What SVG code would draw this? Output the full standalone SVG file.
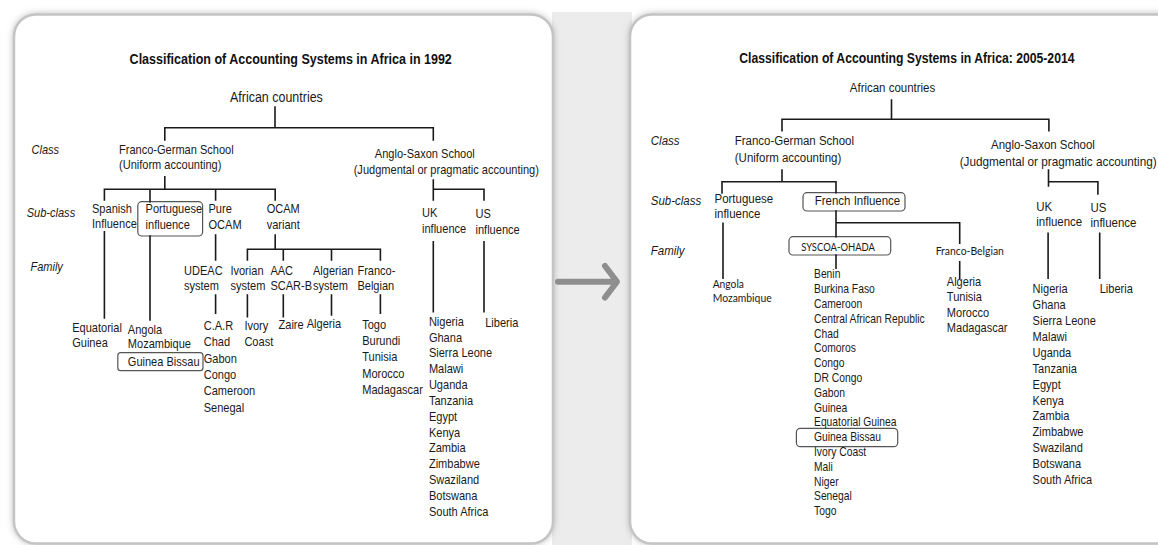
<svg xmlns="http://www.w3.org/2000/svg" width="1158" height="545" viewBox="0 0 1158 545">
<style>
.t{font-family:'Liberation Sans',Arial,sans-serif;font-size:13px;fill:#1a1a1a}
.r{font-size:13.5px}
.s{font-size:12px}
.h{font-weight:bold;font-size:15px;fill:#111}
.i{font-style:italic}
.c{font-family:Lato,'Liberation Sans',sans-serif;font-size:11.5px;fill:#1a1a1a}
.ln{stroke:#1a1a1a;stroke-width:1.6;fill:none;stroke-linecap:square}
.bx{fill:none;stroke:#555;stroke-width:1.2}
.pn{fill:#fff;stroke:#c4c4c4;stroke-width:2.5}
</style>
<defs>
<filter id="sh" x="-5%" y="-5%" width="110%" height="110%">
<feDropShadow dx="0" dy="0" stdDeviation="3" flood-color="#888" flood-opacity="0.55"/>
</filter>
</defs>
<rect x="0" y="0" width="1158" height="545" fill="#fff"/>
<rect x="552" y="12" width="80" height="533" fill="#ececec"/>
<g id="panel-1992">
<rect class="pn" x="14" y="14.5" width="539" height="529" rx="22" filter="url(#sh)"/>
</g>
<g id="panel-2005">
<rect class="pn" x="630" y="14.5" width="560" height="529" rx="22" filter="url(#sh)"/>
</g>
<g id="arrow">
<path d="M558,281.7 H615 M605,266 L617,281.7 L605,297.5" fill="none" stroke="#8e8e8e" stroke-width="6" stroke-linecap="round" stroke-linejoin="round"/>
</g>

<!-- LEFT PANEL -->
<g id="l-title"><text class="t h" transform="matrix(.835 0 0 1 129.6 64)">Classification of Accounting Systems in Africa in 1992</text></g>
<g id="l-root"><text class="t" style="font-size:14.5px" transform="matrix(.86 0 0 1 230 102)">African countries</text></g>
<g id="l-levels">
<text class="t i" transform="matrix(.85 0 0 1 31.5 153.5)">Class</text>
<text class="t i" transform="matrix(.85 0 0 1 26.7 217.3)">Sub-class</text>
<text class="t i" transform="matrix(.85 0 0 1 30.4 270.7)">Family</text>
</g>
<g id="l-franco-german"><text class="t" transform="matrix(.85 0 0 1 119 153.5)"><tspan x="0">Franco-German School</tspan><tspan x="0" dy="16">(Uniform accounting)</tspan></text></g>
<g id="l-anglo-saxon"><text class="t" transform="matrix(.85 0 0 1 374.8 158.3)">Anglo-Saxon School</text><text class="t" transform="matrix(.85 0 0 1 353.7 174)">(Judgmental or pragmatic accounting)</text></g>
<g id="l-spanish"><text class="t" transform="matrix(.85 0 0 1 92 213.3)"><tspan x="0">Spanish</tspan><tspan x="0" dy="15">Influence</tspan></text></g>
<g id="l-portuguese"><rect class="bx" x="137.8" y="201.7" width="64.8" height="34.3" rx="4"/><text class="t" transform="matrix(.85 0 0 1 145.6 213.3)"><tspan x="0">Portuguese</tspan><tspan x="0" dy="15.7">influence</tspan></text></g>
<g id="l-pure-ocam"><text class="t" transform="matrix(.85 0 0 1 208.5 213.3)"><tspan x="0">Pure</tspan><tspan x="0" dy="15.7">OCAM</tspan></text></g>
<g id="l-ocam-variant"><text class="t" transform="matrix(.85 0 0 1 266.7 213.3)"><tspan x="0">OCAM</tspan><tspan x="0" dy="15.7">variant</tspan></text></g>
<g id="l-uk"><text class="t" transform="matrix(.85 0 0 1 422 217.3)"><tspan x="0">UK</tspan><tspan x="0" dy="16">influence</tspan></text></g>
<g id="l-us"><text class="t" transform="matrix(.85 0 0 1 475.5 218.3)"><tspan x="0">US</tspan><tspan x="0" dy="16">influence</tspan></text></g>
<g id="l-udeac"><text class="t" transform="matrix(.85 0 0 1 184 275)"><tspan x="0">UDEAC</tspan><tspan x="0" dy="15">system</tspan></text></g>
<g id="l-ivorian"><text class="t" transform="matrix(.85 0 0 1 230.4 275)"><tspan x="0">Ivorian</tspan><tspan x="0" dy="15">system</tspan></text></g>
<g id="l-aac"><text class="t" transform="matrix(.85 0 0 1 270.4 275)"><tspan x="0">AAC</tspan><tspan x="0" dy="15">SCAR-B</tspan></text></g>
<g id="l-algerian"><text class="t" transform="matrix(.85 0 0 1 313 275)"><tspan x="0">Algerian</tspan><tspan x="0" dy="15">system</tspan></text></g>
<g id="l-franco-belgian"><text class="t" transform="matrix(.85 0 0 1 357.4 275)"><tspan x="0">Franco-</tspan><tspan x="0" dy="15">Belgian</tspan></text></g>
<g id="l-c-spanish"><text class="t" transform="matrix(.85 0 0 1 72.2 331.7)"><tspan x="0">Equatorial</tspan><tspan x="0" dy="15">Guinea</tspan></text></g>
<g id="l-c-portuguese"><text class="t" transform="matrix(.85 0 0 1 127.8 334)"><tspan x="0">Angola</tspan><tspan x="0" dy="14.3">Mozambique</tspan></text>
<rect class="bx" x="117.8" y="352.7" width="85.2" height="18" rx="3"/><text class="t" transform="matrix(.85 0 0 1 127.8 366)">Guinea Bissau</text></g>
<g id="l-c-udeac"><text class="t" transform="matrix(.85 0 0 1 203.7 330)"><tspan x="0">C.A.R</tspan><tspan x="0" dy="16.35">Chad</tspan><tspan x="0" dy="16.35">Gabon</tspan><tspan x="0" dy="16.35">Congo</tspan><tspan x="0" dy="16.35">Cameroon</tspan><tspan x="0" dy="16.35">Senegal</tspan></text></g>
<g id="l-c-ivorian"><text class="t" transform="matrix(.85 0 0 1 244.4 330)"><tspan x="0">Ivory</tspan><tspan x="0" dy="16.35">Coast</tspan></text></g>
<g id="l-c-aac"><text class="t" transform="matrix(.85 0 0 1 278.5 329)">Zaire</text></g>
<g id="l-c-algerian"><text class="t" transform="matrix(.85 0 0 1 306.7 328)">Algeria</text></g>
<g id="l-c-franco-belgian"><text class="t" transform="matrix(.85 0 0 1 362.2 329)"><tspan x="0">Togo</tspan><tspan x="0" dy="16.2">Burundi</tspan><tspan x="0" dy="16.2">Tunisia</tspan><tspan x="0" dy="16.2">Morocco</tspan><tspan x="0" dy="16.2">Madagascar</tspan></text></g>
<g id="l-c-uk"><text class="t" transform="matrix(.85 0 0 1 428.9 325.7)"><tspan x="0">Nigeria</tspan><tspan x="0" dy="15.85">Ghana</tspan><tspan x="0" dy="15.85">Sierra Leone</tspan><tspan x="0" dy="15.85">Malawi</tspan><tspan x="0" dy="15.85">Uganda</tspan><tspan x="0" dy="15.85">Tanzania</tspan><tspan x="0" dy="15.85">Egypt</tspan><tspan x="0" dy="15.85">Kenya</tspan><tspan x="0" dy="15.85">Zambia</tspan><tspan x="0" dy="15.85">Zimbabwe</tspan><tspan x="0" dy="15.85">Swaziland</tspan><tspan x="0" dy="15.85">Botswana</tspan><tspan x="0" dy="15.85">South Africa</tspan></text></g>
<g id="l-c-us"><text class="t" transform="matrix(.85 0 0 1 485.2 326.7)">Liberia</text></g>

<!-- RIGHT PANEL -->
<g id="r-title"><text class="t h" style="font-size:14.5px" transform="matrix(.842 0 0 1 739.2 63.3)">Classification of Accounting Systems in Africa: 2005-2014</text></g>
<g id="r-root"><text class="t r" transform="matrix(.85 0 0 1 849.8 91.7)">African countries</text></g>
<g id="r-levels">
<text class="t r i" transform="matrix(.85 0 0 1 650.8 145)">Class</text>
<text class="t r i" transform="matrix(.85 0 0 1 650.8 205)">Sub-class</text>
<text class="t r i" transform="matrix(.85 0 0 1 650.8 255)">Family</text>
</g>
<g id="r-franco-german"><text class="t r" transform="matrix(.85 0 0 1 734.8 145)"><tspan x="0">Franco-German School</tspan><tspan x="0" dy="16.7">(Uniform accounting)</tspan></text></g>
<g id="r-anglo-saxon"><text class="t r" transform="matrix(.85 0 0 1 991 149)">Anglo-Saxon School</text><text class="t r" transform="matrix(.87 0 0 1 959.7 165.7)">(Judgmental or pragmatic accounting)</text></g>
<g id="r-portuguese"><text class="t r" transform="matrix(.85 0 0 1 714.5 203.3)"><tspan x="0">Portuguese</tspan><tspan x="0" dy="15">influence</tspan></text></g>
<g id="r-french"><rect class="bx" x="803" y="192.7" width="102" height="18.3" rx="4"/><text class="t r" transform="matrix(.85 0 0 1 814.8 205.3)">French Influence</text></g>
<g id="r-uk"><text class="t r" transform="matrix(.85 0 0 1 1036.3 210.7)"><tspan x="0">UK</tspan><tspan x="0" dy="15">influence</tspan></text></g>
<g id="r-us"><text class="t r" transform="matrix(.85 0 0 1 1090.5 211.7)"><tspan x="0">US</tspan><tspan x="0" dy="15">influence</tspan></text></g>
<g id="r-syscoa"><rect class="bx" x="789" y="236.7" width="101.7" height="18.3" rx="4"/><text class="c" x="801.2" y="250.5" textLength="73.7" lengthAdjust="spacingAndGlyphs">SYSCOA-OHADA</text></g>
<g id="r-franco-belgian"><text class="c" x="935.7" y="255" textLength="68.2" lengthAdjust="spacingAndGlyphs">Franco-Belgian</text></g>
<g id="r-c-portuguese"><text class="c" x="712.7" y="288.3" textLength="31.3" lengthAdjust="spacingAndGlyphs">Angola</text><text class="c" x="712.7" y="301.7" textLength="59" lengthAdjust="spacingAndGlyphs">Mozambique</text></g>
<g id="r-c-syscoa"><rect class="bx" x="796.4" y="428.3" width="101.3" height="18.4" rx="4"/><text class="t s" transform="matrix(.86 0 0 1 814 278.4)"><tspan x="0">Benin</tspan><tspan x="0" dy="14.8">Burkina Faso</tspan><tspan x="0" dy="14.8">Cameroon</tspan><tspan x="0" dy="14.8">Central African Republic</tspan><tspan x="0" dy="14.8">Chad</tspan><tspan x="0" dy="14.8">Comoros</tspan><tspan x="0" dy="14.8">Congo</tspan><tspan x="0" dy="14.8">DR Congo</tspan><tspan x="0" dy="14.8">Gabon</tspan><tspan x="0" dy="14.8">Guinea</tspan><tspan x="0" dy="14.8">Equatorial Guinea</tspan><tspan x="0" dy="14.8">Guinea Bissau</tspan><tspan x="0" dy="14.8">Ivory Coast</tspan><tspan x="0" dy="14.8">Mali</tspan><tspan x="0" dy="14.8">Niger</tspan><tspan x="0" dy="14.8">Senegal</tspan><tspan x="0" dy="14.8">Togo</tspan></text></g>
<g id="r-c-franco-belgian"><text class="t" transform="matrix(.85 0 0 1 946.8 286)"><tspan x="0">Algeria</tspan><tspan x="0" dy="15.5">Tunisia</tspan><tspan x="0" dy="15.5">Morocco</tspan><tspan x="0" dy="15.5">Madagascar</tspan></text></g>
<g id="r-c-uk"><text class="t" transform="matrix(.85 0 0 1 1032.6 293.3)"><tspan x="0">Nigeria</tspan><tspan x="0" dy="15.9">Ghana</tspan><tspan x="0" dy="15.9">Sierra Leone</tspan><tspan x="0" dy="15.9">Malawi</tspan><tspan x="0" dy="15.9">Uganda</tspan><tspan x="0" dy="15.9">Tanzania</tspan><tspan x="0" dy="15.9">Egypt</tspan><tspan x="0" dy="15.9">Kenya</tspan><tspan x="0" dy="15.9">Zambia</tspan><tspan x="0" dy="15.9">Zimbabwe</tspan><tspan x="0" dy="15.9">Swaziland</tspan><tspan x="0" dy="15.9">Botswana</tspan><tspan x="0" dy="15.9">South Africa</tspan></text></g>
<g id="r-c-us"><text class="t" transform="matrix(.85 0 0 1 1099.7 293.3)">Liberia</text></g>

<g id="connectors" class="ln">
<path class="ln" d="M275,107 V127.7 M164.8,127.7 H433.3 M164.8,127.7 V140 M433.3,127.7 V140"/>
<path class="ln" d="M164.8,176.7 V189.3 M104.4,189.3 H275.2 M104.4,189.3 V200 M150,189.3 V201.7 M215.6,189.3 V200 M275.2,189.3 V200"/>
<path class="ln" d="M433.3,180 V200 M433.3,189.3 H484 V200"/>
<path class="ln" d="M104.4,231.7 V318 M150,236 V320 M215.6,235 V260 M215.6,295 V313.3"/>
<path class="ln" d="M275.2,235 V249.3 M247.4,249.3 H380.4 M247.4,249.3 V260 M283.3,249.3 V260 M331.5,249.3 V260 M380.4,249.3 V260"/>
<path class="ln" d="M247.4,295 V316.7 M283.3,295 V316.7 M331.5,295 V315 M380.4,295 V313.3"/>
<path class="ln" d="M433.3,241.7 V311.7 M484,241.7 V311.7"/>
<path class="ln" d="M891.5,100 V119.3 M782,119.3 H1048.9 M782,119.3 V130.7 M1048.9,119.3 V130.7"/>
<path class="ln" d="M782,170 V181.7 M722,181.7 H836 M722,181.7 V193 M836,181.7 V192.7"/>
<path class="ln" d="M1048.5,170 V186 M1048.5,181.7 H1097.9 V194"/>
<path class="ln" d="M836,211 V236.7 M836,222.7 H959.7 V243.3 M723,223.3 V278.3 M836,255 V268.3 M959.7,261.7 V278.3"/>
<path class="ln" d="M1048.1,233.3 V278.3 M1099.7,233.3 V278.3"/>
</g>
</svg>
